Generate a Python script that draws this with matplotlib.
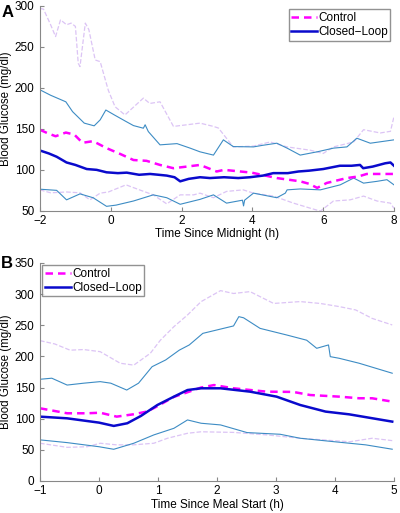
import matplotlib.pyplot as plt

plt.rcParams['font.family'] = ['Liberation Sans', 'DejaVu Sans']

# ---- Panel A: overnight (time since midnight, h) ----
a_cl_t = [-2, -1.75, -1.53, -1.25, -1.0, -0.68, -0.4, -0.12, 0.2, 0.45, 0.8, 1.11, 1.35, 1.58, 1.8, 1.96, 2.2, 2.52, 2.8,
          3.2, 3.6, 3.93, 4.3, 4.59, 5.0, 5.3, 5.6, 6.0, 6.47, 6.8, 7.04, 7.13, 7.4, 7.75, 7.9, 8.0]
a_cl = [123.6, 120, 116, 109, 106, 101, 100, 97, 96, 96.6, 94, 95, 94, 93, 91, 86, 89, 91, 90,
        91, 90, 91, 93, 96, 96, 98, 99, 101, 105, 105, 106, 102, 104, 108, 109, 105]

a_ctl_t = [-2, -1.8, -1.56, -1.27, -1.03, -0.8, -0.5, -0.12, 0.26, 0.64, 1.01, 1.39, 1.77, 2.15, 2.52, 2.99, 3.2, 3.98,
           4.69, 5.35, 5.6, 5.83, 6.1, 6.67, 7.0, 7.23, 8.0]
a_ctl = [148.8, 145, 141, 145.5, 143, 133, 135, 126.5, 119.5, 112, 111, 106, 102, 104, 106, 98, 100, 96.6,
         90, 86, 83, 78, 84, 90, 92, 95, 95]

a_cl_hi_t = [-2, -1.7, -1.27, -1.08, -0.75, -0.47, -0.3, -0.14, 0.1, 0.43, 0.64, 0.92, 0.97, 1.06, 1.39, 1.87, 2.24,
             2.52, 2.9, 3.18, 3.46, 4.03, 4.3, 4.69, 4.98, 5.35, 5.83, 6.29, 6.67, 6.95, 7.33, 8.0]
a_cl_hi = [197.6, 191, 183, 171, 157, 153.7, 161, 173, 167, 159, 154, 150.8, 155, 146.7, 130.5, 132, 126.5,
           122, 118, 136.6, 128.4, 128, 130, 132.5, 126.5, 118, 122, 126.5, 128, 138.6, 132.5, 136.6]

a_cl_lo_t = [-2, -1.53, -1.25, -0.87, -0.5, -0.12, 0.15, 0.64, 1.2, 1.58, 1.96, 2.52, 2.9, 3.27, 3.72, 3.75, 3.78, 4.03,
             4.69, 4.93, 4.98, 5.35, 5.92, 6.48, 6.86, 7.14, 7.52, 7.8, 8.0]
a_cl_lo = [76.4, 75, 63.4, 70.7, 66, 55.5, 57, 62, 69.5, 66, 58, 64, 69.5, 59.4, 63, 56, 63, 71.6,
           66, 71.6, 75.6, 76.7, 75.6, 81.7, 90, 83.8, 86, 88, 81.7]

a_ctl_hi_t = [-2, -1.9, -1.7, -1.56, -1.42, -1.25, -1.12, -1.0, -0.92, -0.87, -0.72, -0.62, -0.44, -0.3, -0.07,
              0.12, 0.4, 0.92, 1.1, 1.39, 1.77, 2.15, 2.52, 2.9, 3.04, 3.46, 4.03, 4.5, 4.98, 5.63, 6.0, 6.29,
              6.86, 7.14, 7.61, 7.9, 8.0]
a_ctl_hi = [297, 296, 277, 262.6, 283, 277, 279, 275, 230, 226, 279, 271, 234, 232, 197,
            177, 167, 187.5, 181, 183, 153, 155, 157, 153, 151, 128, 129, 134, 128, 124, 120, 128,
            134, 149, 145, 147, 165]

a_ctl_lo_t = [-2, -1.7, -1.25, -0.87, -0.59, -0.3, -0.07, 0.43, 0.81, 1.2, 1.58, 1.96, 2.34, 2.52, 2.9, 3.27, 3.74,
              4.03, 4.6, 5.16, 5.63, 5.92, 6.29, 6.76, 7.14, 7.52, 7.9, 8.0]
a_ctl_lo = [75.6, 72, 73, 72, 63.4, 71.6, 73, 81.7, 75.6, 69.5, 58.5, 69.5, 69.5, 71.6, 66, 73.7, 75.6,
            71.6, 68, 59.4, 53.3, 49.7, 62, 63.4, 68, 62, 59.4, 53]

# ---- Panel B: post-meal (time since meal start, h) ----
b_cl_t = [-1, -0.54, 0, 0.25, 0.48, 0.71, 0.99, 1.27, 1.5, 1.73, 2.06, 2.56, 3.01, 3.41, 3.84, 4.24, 4.97]
b_cl = [103.3, 100.6, 93.7, 88.4, 92.7, 104.4, 122, 135.4, 146, 148.8, 148.8, 143.4, 135.4, 122, 111.4, 107, 95.3]

b_ctl_t = [-1, -0.54, -0.2, 0.02, 0.3, 0.58, 0.81, 0.95, 1.27, 1.73, 1.95, 2.28, 2.84, 3.29, 3.58, 4.07, 4.41, 4.63, 4.97]
b_ctl = [116.7, 108.7, 108.7, 109.6, 103.3, 107, 111.4, 118, 135, 150, 154, 148.8, 143.4, 143, 138, 135.4, 132.8, 132.8, 127.4]

b_cl_hi_t = [-1, -0.8, -0.54, -0.26, 0.02, 0.2, 0.47, 0.67, 0.9, 1.13, 1.36, 1.53, 1.76, 2.28, 2.37, 2.45, 2.73, 3.18,
             3.52, 3.69, 3.89, 3.92, 4.07, 4.41, 4.97]
b_cl_hi = [163.3, 165, 154, 157, 159.5, 157, 146, 157, 183.5, 194.3, 210, 218.4, 237, 248.9, 263.8, 262, 245, 234.4,
           226, 213, 218.4, 199.6, 197, 189, 173]

b_cl_lo_t = [-1, -0.54, 0, 0.25, 0.59, 0.93, 1.27, 1.5, 1.73, 2.06, 2.51, 3.07, 3.41, 3.97, 4.52, 4.97]
b_cl_lo = [66, 61.6, 55, 50.9, 60.6, 74, 84.6, 98, 92.7, 90, 77.7, 75, 68.6, 63.2, 58, 51]

b_ctl_hi_t = [-1, -0.75, -0.49, -0.26, 0.02, 0.36, 0.59, 0.87, 1.04, 1.27, 1.5, 1.73, 2.06, 2.28, 2.56, 2.96, 3.41,
              3.75, 4.07, 4.35, 4.63, 4.97]
b_ctl_hi = [225.3, 220, 210, 211, 207.6, 189, 186, 205, 226, 247.8, 266.5, 287.9, 305.6, 301, 304, 285, 288,
            285, 280, 274.6, 261, 250.5]

b_ctl_lo_t = [-1, -0.54, -0.2, 0.02, 0.3, 0.58, 0.93, 1.16, 1.5, 1.73, 2.28, 2.84, 3.41, 3.97, 4.25, 4.63, 4.97]
b_ctl_lo = [60.6, 54, 55, 60.6, 58, 58, 60.6, 68.6, 76.6, 79, 78, 74, 68.6, 64.8, 63, 68.6, 64.8]

ctl_color = '#ff00ff'
cl_color = '#0a0acc'
ctl_band = '#dcc4f5'
cl_band = '#3d8cc4'
spine_grey = '#888888'

fig = plt.figure(figsize=(4, 5.13), dpi=100)
axA = fig.add_axes([0.1, 0.589, 0.885, 0.3995])
axB = fig.add_axes([0.1, 0.0624, 0.885, 0.425])


def draw(ax, ctl_hi_t, ctl_hi, ctl_lo_t, ctl_lo, cl_hi_t, cl_hi, cl_lo_t, cl_lo, ctl_t, ctl, cl_t, cl):
    ax.plot(ctl_hi_t, ctl_hi, '--', color=ctl_band, lw=0.9)
    ax.plot(ctl_lo_t, ctl_lo, '--', color=ctl_band, lw=0.9)
    ax.plot(cl_hi_t, cl_hi, '-', color=cl_band, lw=0.8)
    ax.plot(cl_lo_t, cl_lo, '-', color=cl_band, lw=0.8)
    ax.plot(ctl_t, ctl, '--', color=ctl_color, lw=1.8, dashes=(3, 2), label='Control')
    ax.plot(cl_t, cl, '-', color=cl_color, lw=1.8, label='Closed\u2212Loop')
    for s in ['top', 'right']:
        ax.spines[s].set_visible(False)
    for s in ['left', 'bottom']:
        ax.spines[s].set_color(spine_grey)
    ax.tick_params(direction='in', length=3, color=spine_grey, labelsize=8.5)
    ax.tick_params(axis='y', pad=4)
    ax.tick_params(axis='x', pad=3)
    ax.set_ylabel('Blood Glucose (mg/dl)', fontsize=8.3, labelpad=2)


draw(axA, a_ctl_hi_t, a_ctl_hi, a_ctl_lo_t, a_ctl_lo, a_cl_hi_t, a_cl_hi, a_cl_lo_t, a_cl_lo,
     a_ctl_t, a_ctl, a_cl_t, a_cl)
axA.set_xlim(-2, 8)
axA.set_ylim(50, 300)
axA.set_xticks([-2, 0, 2, 4, 6, 8])
axA.set_xticklabels(['\u22122', '0', '2', '4', '6', '8'])
axA.set_yticks([50, 100, 150, 200, 250, 300])
axA.set_xlabel('Time Since Midnight (h)', fontsize=8.5, labelpad=1)
axA.legend(loc='upper right', fontsize=8.5, frameon=True, fancybox=False, edgecolor='#777777',
           handlelength=2.2, handletextpad=0.1, borderpad=0.2, labelspacing=0.2, borderaxespad=0.3)

draw(axB, b_ctl_hi_t, b_ctl_hi, b_ctl_lo_t, b_ctl_lo, b_cl_hi_t, b_cl_hi, b_cl_lo_t, b_cl_lo,
     b_ctl_t, b_ctl, b_cl_t, b_cl)
axB.set_xlim(-1, 5)
axB.set_ylim(0, 350)
axB.set_xticks([-1, 0, 1, 2, 3, 4, 5])
axB.set_xticklabels(['\u22121', '0', '1', '2', '3', '4', '5'])
axB.set_yticks([0, 50, 100, 150, 200, 250, 300, 350])
axB.set_xlabel('Time Since Meal Start (h)', fontsize=8.5, labelpad=1)
axB.legend(loc='upper left', fontsize=8.5, frameon=True, fancybox=False, edgecolor='#777777',
           handlelength=2.2, handletextpad=0.1, borderpad=0.2, labelspacing=0.2, borderaxespad=0.2)

fig.text(0.003, 0.975, 'A', fontsize=12, fontweight='bold', va='center')
fig.text(0.003, 0.487, 'B', fontsize=12, fontweight='bold', va='center')

fig.savefig('out.png', dpi=100)
